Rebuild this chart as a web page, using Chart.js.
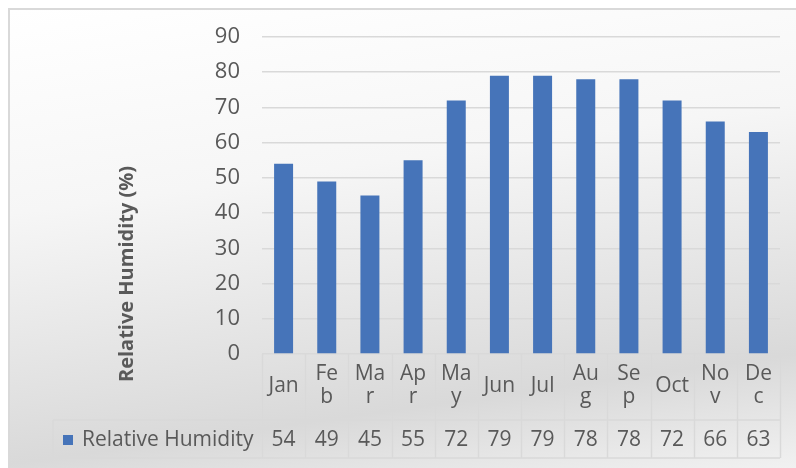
<!DOCTYPE html>
<html>
<head>
<meta charset="utf-8">
<script src="https://cdn.jsdelivr.net/npm/chart.js@4"></script>
<style>
  html, body { margin: 0; padding: 0; background: #fff; }
  #wrap { position: relative; width: 796px; height: 468px; overflow: hidden; }
  #panel {
    position: absolute; left: 8px; top: 8px; width: 800px; height: 470px;
    border-left: 2px solid #d9d9d9; border-top: 2px solid #d9d9d9;
    background: linear-gradient(172deg, #ffffff 0%, #f6f6f6 35%, #e0e0e0 68%, #d9d9d9 78%, #f4f4f4 100%);
  }
  canvas { position: absolute; left: 0; top: 0; }
</style>
</head>
<body>
<div id="wrap">
  <div id="panel"></div>
  <canvas id="humidityChart" width="796" height="468"></canvas>
</div>
<script>
// dati
const months = [['Jan'], ['Fe', 'b'], ['Ma', 'r'], ['Ap', 'r'], ['Ma', 'y'], ['Jun'], ['Jul'], ['Au', 'g'], ['Se', 'p'], ['Oct'], ['No', 'v'], ['De', 'c']];
const humidity = [54, 49, 45, 55, 72, 79, 79, 78, 78, 72, 66, 63];
const seriesName = 'Relative Humidity';
const axisTitle = 'Relative Humidity (%)';
const yTicks = [0, 10, 20, 30, 40, 50, 60, 70, 80, 90];

const textColor = '#595959';
const lineColor = '#d9d9d9';
const barColor = '#4674b9';
const font = '"Open Sans", sans-serif';

// tabella dati sotto l'asse x + titolo asse y
const dataTable = {
    id: 'dataTable',
    afterDraw(chart) {
        const ctx = chart.ctx;
        const x = chart.scales.x;
        const y = chart.scales.y;
        const half = (x.getPixelForValue(1) - x.getPixelForValue(0)) / 2;
        const left = x.getPixelForValue(0) - half;
        const right = x.getPixelForValue(months.length - 1) + half;
        const top = y.getPixelForValue(0);
        const rowSplit = top + 66;
        const bottom = rowSplit + 38;
        const legendLeft = 53;

        ctx.save();
        ctx.strokeStyle = lineColor;
        ctx.lineWidth = 1.5;
        ctx.beginPath();
        for (let i = 0; i <= months.length; i++) {
            const px = Math.round(left + i * half * 2) + 0.5;
            ctx.moveTo(px, top);
            ctx.lineTo(px, bottom);
        }
        ctx.moveTo(legendLeft, rowSplit);
        ctx.lineTo(right, rowSplit);
        ctx.moveTo(legendLeft, bottom);
        ctx.lineTo(right, bottom);
        ctx.moveTo(legendLeft, rowSplit);
        ctx.lineTo(legendLeft, bottom);
        ctx.stroke();

        ctx.fillStyle = textColor;
        ctx.font = '21px ' + font;
        ctx.textAlign = 'center';
        ctx.textBaseline = 'middle';
        const catMid = top + 32;
        months.forEach((lines, i) => {
            const cx = x.getPixelForValue(i);
            const lh = 23;
            const start = catMid - (lines.length - 1) * lh / 2;
            lines.forEach((t, j) => ctx.fillText(t, cx, start + j * lh));
        });
        const valMid = (rowSplit + bottom) / 2 + 1;
        humidity.forEach((v, i) => ctx.fillText(String(v), x.getPixelForValue(i), valMid));

        // legenda nella tabella
        ctx.fillStyle = barColor;
        ctx.fillRect(63, valMid - 5, 10, 10);
        ctx.fillStyle = textColor;
        ctx.textAlign = 'left';
        ctx.fillText(seriesName, 82, valMid);

        // titolo asse y
        ctx.translate(127, 274);
        ctx.rotate(-Math.PI / 2);
        ctx.textAlign = 'center';
        ctx.font = 'bold 20px ' + font;
        ctx.fillText(axisTitle, 0, 0);
        ctx.restore();
    }
};

const ctx1 = document.getElementById('humidityChart').getContext('2d');
const humidityChart = new Chart(ctx1, {
    type: 'bar',
    data: {
        labels: months,
        datasets: [{
            label: seriesName,
            data: humidity,
            backgroundColor: barColor,
            barPercentage: 0.44,
            categoryPercentage: 1
        }]
    },
    options: {
        responsive: false,
        animation: false,
        layout: {
            padding: { left: 0, right: 16, top: 37, bottom: 114 }
        },
        plugins: {
            legend: { display: false },
            tooltip: { enabled: false }
        },
        scales: {
            x: {
                ticks: { display: false },
                grid: { display: false },
                border: { display: false },
                afterFit: (s) => { s.height = 0; }
            },
            y: {
                min: 0,
                max: 90,
                afterBuildTicks: (s) => { s.ticks = yTicks.map(v => ({ value: v })); },
                afterFit: (s) => { s.width = 262; },
                ticks: {
                    color: textColor,
                    font: { family: font, size: 22 },
                    padding: 22
                },
                grid: { color: lineColor, lineWidth: 1.5, drawTicks: false },
                border: { display: false }
            }
        }
    },
    plugins: [dataTable]
});
</script>
</body>
</html>
